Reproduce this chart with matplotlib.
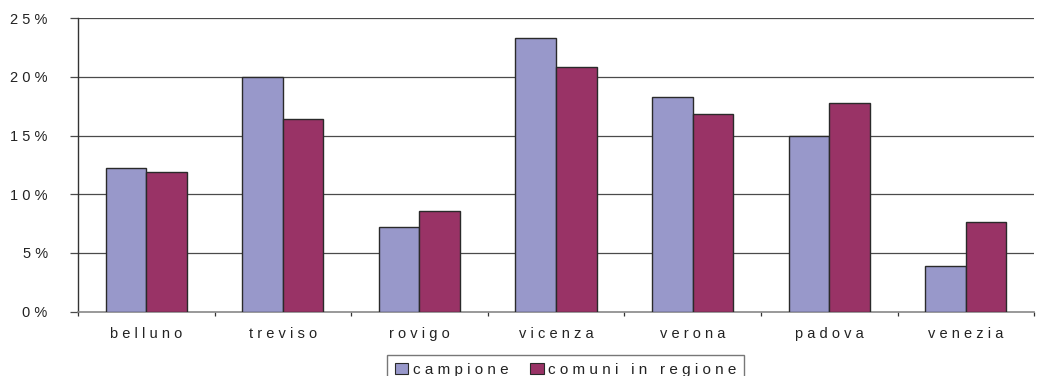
import matplotlib
matplotlib.use("Agg")
import matplotlib.pyplot as plt
import numpy as np
from matplotlib.patches import Patch

provinces = ["belluno", "treviso", "rovigo", "vicenza", "verona", "padova", "venezia"]
campione = [12.2, 20.0, 7.2, 23.3, 18.3, 15.0, 3.9]
comuni_in_regione = [11.9, 16.4, 8.6, 20.8, 16.8, 17.8, 7.6]
series_names = ["campione", "comuni in regione"]
y_ticks = [0, 5, 10, 15, 20, 25]


def spaced(s):
    return " ".join(s)


plt.rcParams["font.family"] = ["Liberation Sans", "DejaVu Sans"]

fig = plt.figure(figsize=(10.45, 3.76), dpi=100)
ax = fig.add_axes([0.0746, 0.171, 0.915, 0.781])

x = np.arange(len(provinces))
w = 0.297
c1 = "#9898CA"
c2 = "#993366"
edge = "#2a2a2a"
ax.bar(x - w / 2, campione, w, color=c1, edgecolor=edge, linewidth=1.0, zorder=3)
ax.bar(x + w / 2, comuni_in_regione, w, color=c2, edgecolor=edge, linewidth=1.0, zorder=3)

ax.set_xlim(-0.5, len(provinces) - 0.5)
ax.set_ylim(0, 25)

for v in y_ticks[1:]:
    ax.axhline(v, color="#4a4a4a", linewidth=0.9, zorder=1)

ax.set_yticks(y_ticks)
ax.set_yticklabels([" ".join(str(v)) + " %" for v in y_ticks], fontsize=10.5, color="#222222")
ax.tick_params(axis="y", length=5.8, width=0.9, color="#4a4a4a", pad=16)

ax.set_xticks(np.arange(len(provinces) + 1) - 0.5)
ax.set_xticklabels([])
ax.tick_params(axis="x", length=3, width=0.9, color="#333333")
for i, p in enumerate(provinces):
    ax.text(i, -1.9, spaced(p), ha="center", va="center", fontsize=10.5, color="#222222")

for s in ["top", "right"]:
    ax.spines[s].set_visible(False)
ax.spines["left"].set_color("#333333")
ax.spines["left"].set_linewidth(1.0)
ax.spines["bottom"].set_color("#888888")
ax.spines["bottom"].set_linewidth(1.2)

handles = [Patch(facecolor=c1, edgecolor=edge, linewidth=0.8),
           Patch(facecolor=c2, edgecolor=edge, linewidth=0.8)]
leg = fig.legend(handles, [spaced(n) for n in series_names],
                 loc="upper left", bbox_to_anchor=(387 / 1045, 1 - 355 / 376),
                 ncol=2, frameon=True, fontsize=11, handlelength=0.9, handleheight=0.75,
                 handletextpad=0.3, columnspacing=1.4, borderpad=0.5,
                 fancybox=False, borderaxespad=0)
leg.get_frame().set_edgecolor("#555555")
leg.get_frame().set_linewidth(1.0)
for t in leg.get_texts():
    t.set_color("#222222")

fig.savefig("out.png", dpi=100)
